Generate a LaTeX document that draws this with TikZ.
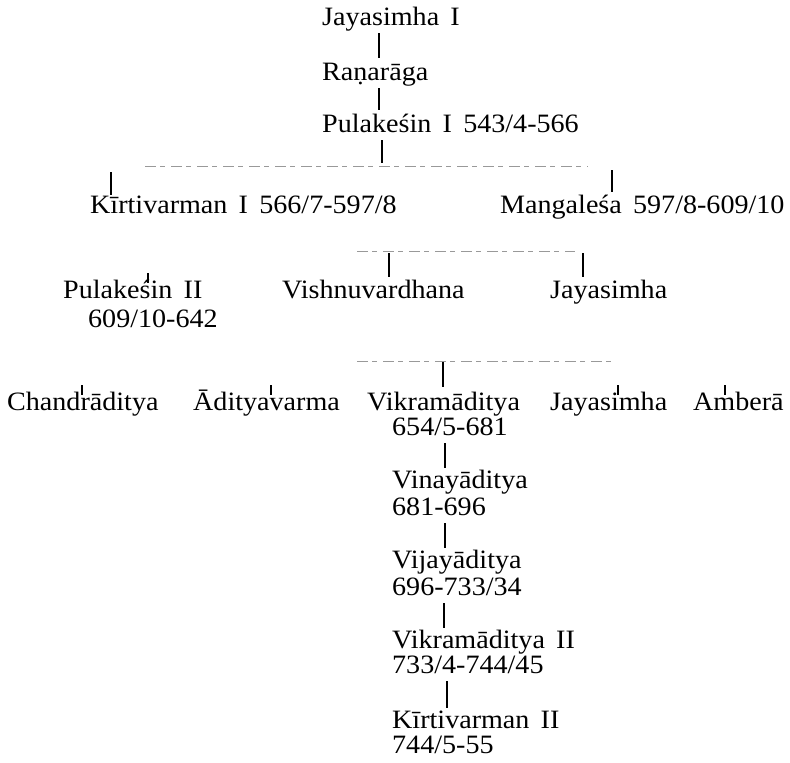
\documentclass[tikz,border=0pt]{standalone}
\usepackage{fontspec}
\setmainfont{Liberation Serif}[FakeStretch=1.06,WordSpace=1.6]
\begin{document}
\begin{tikzpicture}[x=1pt,y=-1pt,
    person/.style={anchor=base west,inner sep=0pt,text height=18pt,text depth=6pt,
      font=\fontsize{26.5}{28}\selectfont},
    kin/.style={line width=1.1pt},
    bar/.style={black!40,line width=0.8pt,dash pattern=on 11pt off 4pt on 5pt off 6pt}]
  \useasboundingbox (0,0) rectangle (790,763);
  % first generations
  \node[person] (jay1) at (322,25) {Jayasimha I};
  \node[person] (rana) at (322,80) {Raṇarāga};
  \node[person] (pul1) at (322,132) {Pulakeśin I 543/4-566};
  \node[person] (kirt1) at (90,213) {Kīrtivarman I 566/7-597/8};
  \node[person] (mang) at (500,213) {Mangaleśa 597/8-609/10};
  \node[person] (pul2) at (63,298) {Pulakeśin II};
  \node[person] (pul2d) at (88,327) {609/10-642};
  \node[person] (vish) at (282,298) {Vishnuvardhana};
  \node[person] (jay2) at (550,298) {Jayasimha};
  % sons of Pulakesin II
  \node[person] (chan) at (7,410) {Chandrāditya};
  \node[person] (adit) at (193,410) {Ādityavarma};
  \node[person] (vik1) at (367,410) {Vikramāditya};
  \node[person] (vik1d) at (392,435) {654/5-681};
  \node[person] (jay3) at (550,410) {Jayasimha};
  \node[person] (amb) at (693,410) {Amberā};
  % main line
  \node[person] (vina) at (392,488) {Vinayāditya};
  \node[person] (vinad) at (392,515) {681-696};
  \node[person] (vija) at (392,568) {Vijayāditya};
  \node[person] (vijad) at (392,595) {696-733/34};
  \node[person] (vik2) at (392,648) {Vikramāditya II};
  \node[person] (vik2d) at (392,673) {733/4-744/45};
  \node[person] (kirt2) at (392,728) {Kīrtivarman II};
  \node[person] (kirt2d) at (392,753) {744/5-55};

  \coordinate (b1w) at (145,166);
  \coordinate (b1e) at (588,166);
  \coordinate (b2w) at (357,251);
  \coordinate (b2e) at (575,251);
  \coordinate (b3w) at (357,361);
  \coordinate (b3e) at (615,361);
  \draw[bar] (b1w) -- (b1e);
  \draw[bar] (b2w) -- (b2e);
  \draw[bar] (b3w) -- (b3e);

  \foreach \a/\b in {jay1/rana, rana/pul1}
    \draw[kin,shorten <=2pt,shorten >=4pt] (379,0 |- \a.south) -- (379,0 |- \b.north);
  \foreach \a/\b/\x in {vik1d/vina/445, vinad/vija/445, vijad/vik2/444, vik2d/kirt2/447}
    \draw[kin,shorten <=2pt,shorten >=2pt] (\x,0 |- \a.south) -- (\x,0 |- \b.north);
  \draw[kin,shorten <=2pt,shorten >=3pt] (382,0 |- pul1.south) -- (382,0 |- b1w);
  \draw[kin,shorten <=6pt] (111,0 |- b1w) -- (111,0 |- kirt1.north);
  \draw[kin,shorten <=4pt,shorten >=3pt] (612,0 |- b1e) -- (612,0 |- mang.north);
  \draw[kin,shorten <=2pt,shorten >=3pt] (389,0 |- b2w) -- (389,0 |- vish.north);
  \draw[kin,shorten <=2pt,shorten >=3pt] (583,0 |- b2e) -- (583,0 |- jay2.north);
  \draw[kin,shorten <=1pt,shorten >=5pt] (443,0 |- b3w) -- (443,0 |- vik1.north);
  % broken-off ticks
  \foreach \n/\x in {pul2/148, chan/82, adit/271, jay3/618, amb/725}
    \draw[kin] (\x,0 |- \n.north) ++(0,3) -- ++(0,-10);
\end{tikzpicture}
\end{document}
